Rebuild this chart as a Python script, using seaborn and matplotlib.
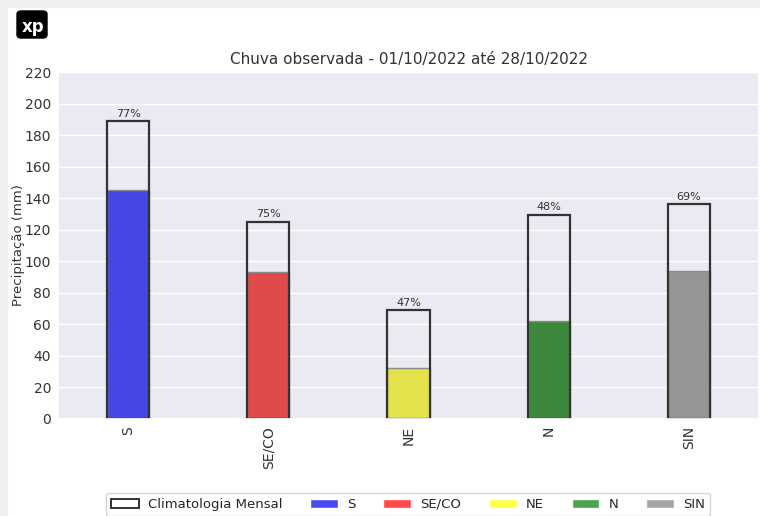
import matplotlib
matplotlib.use("Agg")
import matplotlib.pyplot as plt
import seaborn as sns
import pandas as pd
from matplotlib.patches import Patch, Rectangle, FancyBboxPatch

# data
regions = ["S", "SE/CO", "NE", "N", "SIN"]
climatologia = [189, 125, 69, 129.5, 136]
observado = [145.5, 93.5, 32.5, 62, 94]
percentual = ["77%", "75%", "47%", "48%", "69%"]
bar_colors = ["#4646e4", "#e04a4a", "#e3e24a", "#3d873d", "#959595"]
legend_colors = ["#4a4af2", "#ff4a4a", "#ffff4a", "#4aa44a", "#a3a3a3"]

sns.set_theme(style="darkgrid")
plt.rcParams["font.family"] = ["DejaVu Sans"]

df = pd.DataFrame({"regiao": regions, "clim": climatologia, "obs": observado})

fig = plt.figure(figsize=(7.6, 5.16), dpi=100)
ax = fig.add_axes([58 / 760, 1 - 419 / 516, 701 / 760, 347 / 516])

# observed rain
sns.barplot(data=df, x="regiao", y="obs", hue="regiao", palette=bar_colors,
            ax=ax, width=0.3, edgecolor="#8a8a8a", linewidth=1.0,
            saturation=1, legend=False)
# climatology bars (outline only, on top)
sns.barplot(data=df, x="regiao", y="clim", ax=ax, width=0.3,
            fill=False, edgecolor="#333333", linewidth=1.6)

for i, (c, p) in enumerate(zip(climatologia, percentual)):
    ax.text(i, c + 1.5, p, ha="center", va="bottom", fontsize=8, color="#333333")

ax.set_ylim(0, 220)
ax.set_yticks(range(0, 221, 20))
ax.set_xlim(-0.5, 4.5)
ax.set_xlabel("")
ax.set_ylabel("Precipitação (mm)", fontsize=9.5, color="#333333")
ax.yaxis.set_label_coords(-33 / 701, 0.5)
ax.tick_params(axis="x", rotation=90, labelsize=10, colors="#333333",
               length=0, pad=5)
ax.tick_params(axis="y", labelsize=10, colors="#333333", length=0, pad=5)
ax.set_title("Chuva observada - 01/10/2022 até 28/10/2022", fontsize=11,
             color="#333333", pad=6)

handles = [Patch(facecolor="white", edgecolor="#333333", linewidth=1.4,
                 label="Climatologia Mensal")]
handles += [Patch(facecolor=c, label=r) for c, r in zip(legend_colors, regions)]
fig.legend(handles=handles, loc="upper center", ncol=6, fontsize=9.5,
           bbox_to_anchor=(408 / 760, 1 - 486 / 516), frameon=True,
           handlelength=2.1, handletextpad=0.7, columnspacing=2.1,
           facecolor="white")

# light grey frame of the screenshot and logo
fig.patches.append(Rectangle((0, 0), 7 / 760, 1, transform=fig.transFigure,
                             color="#f0f0f0", zorder=0))
fig.patches.append(Rectangle((0, 1 - 7 / 516), 1, 7 / 516,
                             transform=fig.transFigure, color="#f0f0f0", zorder=0))
fig.patches.append(FancyBboxPatch((17 / 760, 1 - 38 / 516), 30 / 760, 27 / 516,
                                  boxstyle="round,pad=0,rounding_size=0.006",
                                  transform=fig.transFigure, color="black"))
fig.text(33 / 760, 1 - 27 / 516, "xp", color="white", fontsize=12,
         fontweight="bold", ha="center", va="center")

fig.savefig("out.png", dpi=100)
